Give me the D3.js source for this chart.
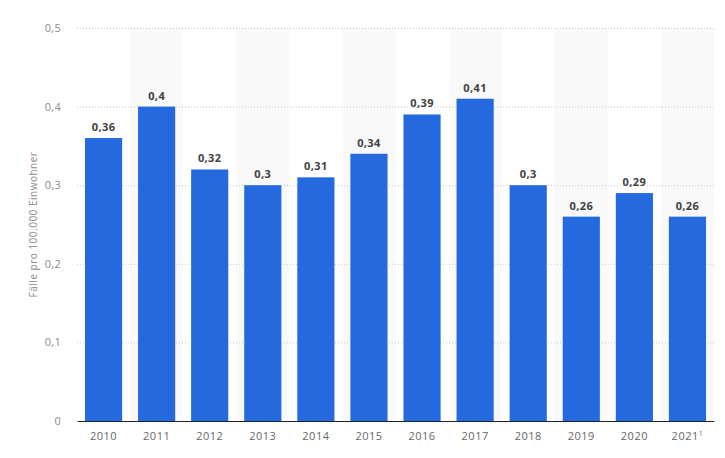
<!DOCTYPE html>
<html><head><meta charset="utf-8">
<script src="https://cdn.jsdelivr.net/npm/d3@7"></script>
<style>body{margin:0;background:#fff;font-family:"Open Sans",Roboto,sans-serif;}</style>
</head><body><svg id="c" width="725" height="458"></svg>
<script>
const categories = ["2010","2011","2012","2013","2014","2015","2016","2017","2018","2019","2020","2021"];
const values = [0.36,0.4,0.32,0.3,0.31,0.34,0.39,0.41,0.3,0.26,0.29,0.26];
const yTicks = [0,0.1,0.2,0.3,0.4,0.5];
const yTitle = "Fälle pro 100.000 Einwohner";

(function(){
const svg = d3.select("#c");
const pL = 77, pR = 714, pT = 28, pB = 421;
const x = d3.scaleBand().domain(categories).range([pL,pR]).paddingInner(0.3).paddingOuter(0.15);
const xb = d3.scaleBand().domain(categories).range([pL,pR]);
const y = d3.scaleLinear().domain([0,0.5]).range([pB,pT]);
const fmt = v => String(v).replace(".", ",");

svg.append("g").selectAll("rect").data(categories.filter((d,i)=>i%2===1)).join("rect")
  .attr("x", d=>xb(d)).attr("y", pT).attr("width", xb.bandwidth()).attr("height", pB-pT)
  .attr("fill", "#f9f9f9");

const yAxis = d3.axisLeft(y).tickValues(yTicks).tickFormat(d=>d===0?"0":fmt(d)).tickSize(0).tickPadding(16);
const gy = svg.append("g").attr("transform", `translate(${pL},0)`).call(yAxis);
gy.select(".domain").remove();
gy.selectAll("text").attr("fill","#8a8a8a").style("font-size","11px").style("letter-spacing","0.3px").style("font-family","'Open Sans',sans-serif");

svg.append("g").selectAll("line").data(yTicks.filter(d=>d>0)).join("line")
  .attr("x1", pL).attr("x2", pR).attr("y1", d=>y(d)+0.5).attr("y2", d=>y(d)+0.5)
  .attr("stroke", "#c8c8c8").attr("stroke-dasharray","1,2");

svg.append("g").selectAll("rect").data(categories).join("rect")
  .attr("x", d=>x(d)).attr("width", x.bandwidth())
  .attr("y", (d,i)=>y(values[i])).attr("height", (d,i)=>pB-y(values[i]))
  .attr("fill", "#246ade");

svg.append("g").selectAll("text").data(categories).join("text")
  .attr("x", d=>x(d)+x.bandwidth()/2).attr("y", (d,i)=>y(values[i])-7)
  .attr("text-anchor","middle").attr("fill","#404040")
  .style("font-size","11px").style("font-weight","bold").style("letter-spacing","0.4px").style("font-family","'Open Sans',sans-serif")
  .text((d,i)=>fmt(values[i]));

const xAxis = d3.axisBottom(x).tickSize(0).tickPadding(11);
const gx = svg.append("g").attr("transform", `translate(0,${pB})`).call(xAxis);
gx.select(".domain").attr("stroke","#222").attr("stroke-width",1.2);
gx.selectAll("text").attr("fill","#666").style("font-size","11px").style("letter-spacing","0.5px").style("font-family","'Open Sans',sans-serif");
gx.selectAll(".tick").filter(d=>d==="2021").select("text")
  .append("tspan").attr("dy","-4").style("font-size","7px").text("1");

svg.append("text").attr("transform", `translate(37,${(pT+pB)/2}) rotate(-90)`)
  .attr("text-anchor","middle").attr("fill","#8a8a8a")
  .style("font-size","10px").style("letter-spacing","0.5px").style("font-family","'Open Sans',sans-serif").text(yTitle);
})();
</script></body></html>
